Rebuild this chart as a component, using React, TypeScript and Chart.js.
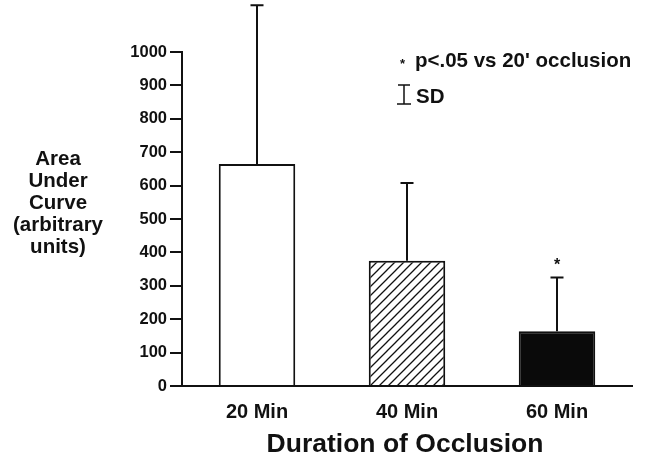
import React, { useEffect, useRef } from "react";
import { Chart, registerables } from "chart.js";

Chart.register(...registerables);

const categories = ["20 Min", "40 Min", "60 Min"];
const means = [665, 375, 164];
const sds = [475, 233, 161];
const significant = [false, false, true];
const yTicks = [0, 100, 200, 300, 400, 500, 600, 700, 800, 900, 1000];
const yTitleLines = ["Area", "Under", "Curve", "(arbitrary", "units)"];
const xTitle = "Duration of Occlusion";
const legendSig = "p<.05 vs 20' occlusion";
const legendSD = "SD";

const FONT = "'Liberation Sans', Arial, Helvetica, sans-serif";

function makeHatch(): CanvasPattern | string {
  const c = document.createElement("canvas");
  const s = 9;
  c.width = s;
  c.height = s;
  const g = c.getContext("2d");
  if (!g) return "#fff";
  g.fillStyle = "#fff";
  g.fillRect(0, 0, s, s);
  g.strokeStyle = "#111";
  g.lineWidth = 1.3;
  g.beginPath();
  g.moveTo(-1, s + 1);
  g.lineTo(s + 1, -1);
  g.moveTo(-1, 1);
  g.lineTo(1, -1);
  g.moveTo(s - 1, s + 1);
  g.lineTo(s + 1, s - 1);
  g.stroke();
  const p = g.createPattern(c, "repeat");
  return p || "#fff";
}

const overlayPlugin = {
  id: "overlay",
  afterDatasetsDraw(chart: any) {
    const ctx = chart.ctx as CanvasRenderingContext2D;
    const x = chart.scales.x;
    const y = chart.scales.y;
    ctx.save();
    ctx.strokeStyle = "#111";
    ctx.fillStyle = "#111";
    ctx.lineWidth = 2;
    means.forEach((m, i) => {
      const cx = x.getPixelForValue(i);
      const yTop = y.getPixelForValue(m);
      const yErr = y.getPixelForValue(m + sds[i]);
      ctx.beginPath();
      ctx.moveTo(cx, yTop);
      ctx.lineTo(cx, yErr);
      ctx.moveTo(cx - 6.5, yErr);
      ctx.lineTo(cx + 6.5, yErr);
      ctx.stroke();
      if (significant[i]) {
        ctx.font = `bold 16px ${FONT}`;
        ctx.textAlign = "center";
        ctx.textBaseline = "middle";
        ctx.fillText("*", cx, yErr - 12);
      }
    });
    ctx.restore();
  },
  afterDraw(chart: any) {
    const ctx = chart.ctx as CanvasRenderingContext2D;
    ctx.save();
    ctx.fillStyle = "#111";
    ctx.strokeStyle = "#111";
    ctx.font = `bold 20.5px ${FONT}`;
    ctx.textAlign = "center";
    ctx.textBaseline = "middle";
    yTitleLines.forEach((t, i) => {
      ctx.fillText(t, 58, 159 + i * 22);
    });
    ctx.font = `bold 26.5px ${FONT}`;
    ctx.textBaseline = "alphabetic";
    ctx.fillText(xTitle, 405, 452);
    ctx.textAlign = "left";
    ctx.font = `bold 13px ${FONT}`;
    ctx.textBaseline = "middle";
    ctx.fillText("*", 400, 64);
    ctx.font = `bold 20.5px ${FONT}`;
    ctx.fillText(legendSig, 415, 61);
    ctx.fillText(legendSD, 416, 97);
    ctx.lineWidth = 1.5;
    ctx.beginPath();
    ctx.moveTo(404, 85);
    ctx.lineTo(404, 104);
    ctx.moveTo(398, 85);
    ctx.lineTo(410, 85);
    ctx.moveTo(397, 104);
    ctx.lineTo(411, 104);
    ctx.stroke();
    ctx.restore();
  },
};

export default function App() {
  const ref = useRef<HTMLCanvasElement | null>(null);
  useEffect(() => {
    if (!ref.current) return;
    const hatch = makeHatch();
    const chart = new Chart(ref.current, {
      type: "bar",
      data: {
        labels: categories,
        datasets: [
          {
            data: means,
            backgroundColor: ["#ffffff", hatch as any, "#0a0a0a"],
            borderColor: "#111",
            borderWidth: 2,
            barPercentage: 0.51,
            categoryPercentage: 1,
          },
        ],
      },
      options: {
        animation: false,
        responsive: false,
        events: [],
        layout: { padding: { top: 52, right: 14, left: 0, bottom: 0 } },
        plugins: { legend: { display: false }, tooltip: { enabled: false } },
        scales: {
          x: {
            grid: { display: false },
            border: { display: true, color: "#111", width: 2 },
            ticks: {
              color: "#111",
              padding: 6,
              font: { family: FONT, size: 20, weight: "bold" },
            },
            afterFit: (s: any) => {
              s.height = 69;
            },
          },
          y: {
            min: 0,
            max: 1000,
            afterBuildTicks: (s: any) => {
              s.ticks = yTicks.map((v) => ({ value: v }));
            },
            grid: {
              drawOnChartArea: false,
              drawTicks: true,
              tickLength: 12,
              color: "#111",
              lineWidth: 2,
            },
            border: { display: true, color: "#111", width: 2 },
            ticks: {
              color: "#111",
              padding: 3,
              font: { family: FONT, size: 16.5, weight: "bold" },
              callback: (v: any) => String(v),
            },
            afterFit: (s: any) => {
              s.width = 182;
            },
          },
        },
      },
      plugins: [overlayPlugin],
    });
    return () => chart.destroy();
  }, []);
  return (
    <div style={{ position: "fixed", left: 0, top: 0, width: 646, height: 455, background: "#fff" }}>
      <canvas ref={ref} width={646} height={455} style={{ display: "block" }} />
    </div>
  );
}
